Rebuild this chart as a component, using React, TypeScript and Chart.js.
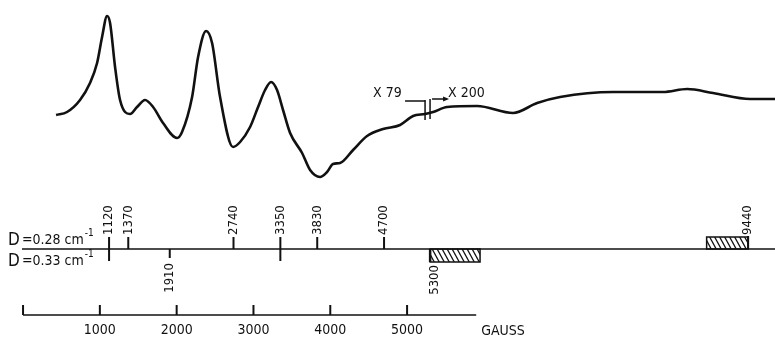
import { useEffect, useRef } from 'react';
import { Chart, registerables } from 'chart.js';

Chart.register(...registerables);

// EPR spectrum trace (field in gauss, signal in arbitrary units)
const fieldGauss = [430, 573, 742, 872, 964, 1029, 1094, 1133, 1198, 1263, 1393, 1484, 1589, 1693, 1823, 2005, 2070, 2201, 2279, 2383, 2461, 2565, 2734, 2826, 2956, 3060, 3151, 3229, 3307, 3385, 3477, 3633, 3737, 3867, 3958, 4036, 4128, 4297, 4479, 4688, 4909, 5078, 5234, 5339, 5521, 5911, 6380, 6693, 6992, 7682, 8333, 8646, 8984, 9466, 9792];
const signal = [85, 88, 100, 117, 137, 163, 184, 177, 133, 100, 86, 93, 100, 93, 77, 62, 68, 103, 143, 169, 157, 103, 53, 58, 73, 93, 110, 118, 110, 90, 67, 47, 30, 23, 28, 36, 37, 50, 64, 71, 75, 84, 86, 88, 93, 94, 87, 97, 103, 108, 108, 111, 107, 101, 101];

// Predicted resonance fields (gauss)
const d028Lines = [1120, 1370, 2740, 3350, 3830, 4700];
const d033Lines = [1120, 1910, 3350];
const d028Band = [8900, 9440];
const d033Band = [5300, 5950];
const dValues = ['0.28', '0.33'];

// Gauss scale bar
const gaussTicks = [0, 1000, 2000, 3000, 4000, 5000];
const gaussAxisEnd = 5900;
const gaussUnit = 'GAUSS';

// Gain change
const gainBreak = [5234, 5299];
const gainLabels = ['X 79', 'X 200'];

const FONT = '"Liberation Sans Narrow", "DejaVu Sans Condensed", "Liberation Sans", sans-serif';

const annotPlugin = {
  id: 'annot',
  afterDatasetsDraw(chart: any) {
    const ctx: CanvasRenderingContext2D = chart.ctx;
    const xs = chart.scales.x;
    const X = (g: number) => xs.getPixelForValue(g);
    const base = 249;
    const line = (x1: number, y1: number, x2: number, y2: number) => {
      ctx.beginPath();
      ctx.moveTo(x1, y1);
      ctx.lineTo(x2, y2);
      ctx.stroke();
    };
    const rotText = (t: string, x: number, y: number, align: CanvasTextAlign) => {
      ctx.save();
      ctx.translate(x, y);
      ctx.rotate(-Math.PI / 2);
      ctx.textAlign = align;
      ctx.textBaseline = 'middle';
      ctx.fillText(t, 0, 0);
      ctx.restore();
    };
    const hatch = (x1: number, x2: number, y1: number, y2: number) => {
      ctx.save();
      ctx.lineWidth = 1.5;
      ctx.strokeRect(x1, y1, x2 - x1, y2 - y1);
      ctx.beginPath();
      ctx.rect(x1, y1, x2 - x1, y2 - y1);
      ctx.clip();
      ctx.lineWidth = 1.3;
      const h = y2 - y1;
      for (let x = x1 - h; x < x2 + h; x += 5) line(x, y1, x + h * 0.55, y2);
      ctx.restore();
    };

    ctx.save();
    ctx.strokeStyle = '#111';
    ctx.fillStyle = '#111';
    ctx.lineCap = 'butt';

    // baseline of stick diagram
    ctx.lineWidth = 1.5;
    line(22, base, chart.width, base);

    // D = 0.28 lines (upwards)
    ctx.font = `13px ${FONT}`;
    d028Lines.forEach((g) => {
      ctx.lineWidth = 2;
      line(X(g), base, X(g), base - 12);
      rotText(String(g), X(g), base - 14, 'left');
    });
    // D = 0.33 lines (downwards)
    d033Lines.forEach((g) => {
      const shared = d028Lines.includes(g);
      ctx.lineWidth = 2;
      line(X(g), base, X(g), base + (shared ? 12 : 9));
      if (!shared) rotText(String(g), X(g), base + 14, 'right');
    });
    // bands
    hatch(X(d028Band[0]), X(d028Band[1]), base - 12, base);
    ctx.lineWidth = 2;
    line(X(d028Band[1]), base, X(d028Band[1]), base - 13);
    rotText(String(d028Band[1]), X(d028Band[1]), base - 14, 'left');
    hatch(X(d033Band[0]), X(d033Band[1]), base, base + 13);
    ctx.lineWidth = 2.5;
    line(X(d033Band[0]), base, X(d033Band[0]), base + 13);
    rotText(String(d033Band[0]), X(d033Band[0]) + 4, base + 16, 'right');

    // D labels
    const dLabel = (val: string, y: number) => {
      ctx.textAlign = 'left';
      ctx.textBaseline = 'alphabetic';
      ctx.font = `17px ${FONT}`;
      ctx.fillText('D', 8, y);
      ctx.font = `14px ${FONT}`;
      const s = `=${val} cm`;
      ctx.fillText(s, 22, y - 1);
      const w = ctx.measureText(s).width;
      ctx.font = `10px ${FONT}`;
      ctx.fillText('-1', 22 + w + 1, y - 9);
    };
    dLabel(dValues[0], base - 4);
    dLabel(dValues[1], base + 17);

    // gauss scale
    const gy = 315;
    ctx.lineWidth = 1.5;
    line(X(gaussTicks[0]), gy, X(gaussAxisEnd), gy);
    ctx.lineWidth = 2;
    ctx.font = `14px ${FONT}`;
    ctx.textAlign = 'center';
    ctx.textBaseline = 'alphabetic';
    gaussTicks.forEach((t) => {
      line(X(t), gy, X(t), gy - 10);
      if (t > 0) ctx.fillText(String(t), X(t), 334);
    });
    ctx.textAlign = 'left';
    ctx.fillText(gaussUnit, X(gaussAxisEnd) + 5, 335);

    // gain break
    const bx1 = X(gainBreak[0]);
    const bx2 = X(gainBreak[1]);
    ctx.lineWidth = 1.5;
    line(bx1, 100, bx1, 120);
    line(bx2, 99, bx2, 119);
    ctx.lineWidth = 1.5;
    line(bx1 - 20, 101, bx1, 101);
    line(bx2 + 2, 99, bx2 + 17, 99);
    ctx.beginPath();
    ctx.moveTo(bx2 + 19, 99);
    ctx.lineTo(bx2 + 13, 96.5);
    ctx.lineTo(bx2 + 13, 101.5);
    ctx.closePath();
    ctx.fill();
    ctx.font = `14px ${FONT}`;
    ctx.fillText(gainLabels[0], bx1 - 52, 97);
    ctx.fillText(gainLabels[1], bx2 + 18, 97);

    ctx.restore();
  },
};

export default function App() {
  const ref = useRef<HTMLCanvasElement>(null);
  useEffect(() => {
    if (!ref.current) return;
    const chart = new Chart(ref.current, {
      type: 'line',
      data: {
        datasets: [
          {
            data: fieldGauss.map((g, i) => ({ x: g, y: signal[i] })),
            borderColor: '#111',
            borderWidth: 2.6,
            pointRadius: 0,
            cubicInterpolationMode: 'monotone',
            fill: false,
          },
        ],
      },
      options: {
        animation: false,
        responsive: false,
        layout: { padding: 0 },
        plugins: { legend: { display: false }, tooltip: { enabled: false } },
        scales: {
          x: { type: 'linear', min: -300, max: 9790, display: false },
          y: { type: 'linear', min: -138, max: 200, display: false },
        },
      },
      plugins: [annotPlugin],
    } as any);
    return () => chart.destroy();
  }, []);
  return (
    <div style={{ position: 'absolute', left: 0, top: 0, width: 775, height: 338, background: '#fff' }}>
      <canvas ref={ref} width={775} height={338} style={{ display: 'block', width: 775, height: 338 }} />
    </div>
  );
}
